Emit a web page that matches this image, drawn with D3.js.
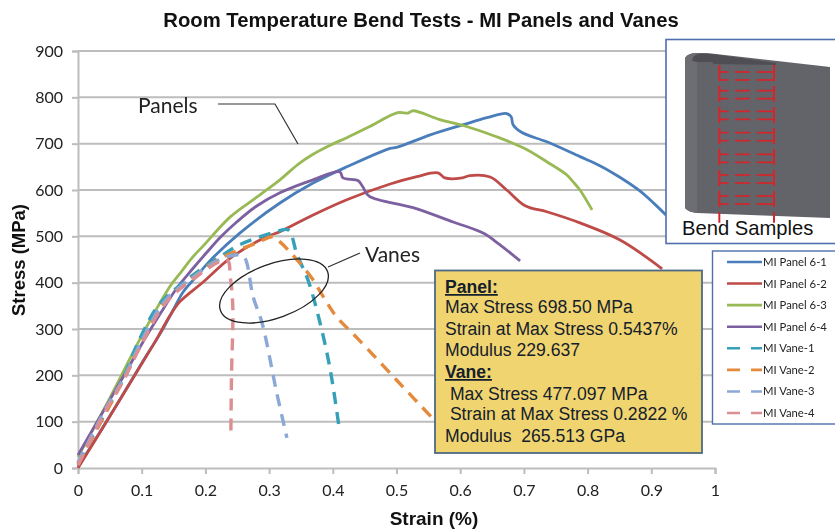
<!DOCTYPE html>
<html><head><meta charset="utf-8">
<script src="https://cdn.jsdelivr.net/npm/d3@7"></script>
<style>
html,body{margin:0;padding:0;background:#fff;overflow:hidden}
svg{display:block;filter:blur(0.45px)}
text{font-family:"Liberation Sans",Arial,sans-serif}
</style></head><body>
<svg id="c" width="835" height="531"></svg>
<script>
const title="Room Temperature Bend Tests - MI Panels and Vanes";
const xTicks=[0,0.1,0.2,0.3,0.4,0.5,0.6,0.7,0.8,0.9,1];
const yTicks=[0,100,200,300,400,500,600,700,800,900];
const panel61=[[0,2],[.05,112],[.1,226],[.129,290],[.149,340],[.165,380],[.185,412],[.207,447],[.254,507],[.317,572],[.369,615],[.422,650],[.49,690],[.50,692],[.553,719],[.605,741],[.642,756],[.673,765],[.68,758],[.683,741],[.697,724],[.736,704],[.788,672],[.82,652],[.85,628],[.882,598],[.905,570],[.923,546]];
const panel62=[[0,0],[.04,89],[.097,218],[.125,282],[.144,328],[.16,359],[.197,402],[.239,453],[.296,499],[.317,510],[.369,546],[.422,579],[.49,613],[.532,629],[.565,637],[.576,626],[.603,626],[.615,631],[.647,628],[.673,600],[.702,566],[.736,553],[.788,529],[.851,492],[.917,430]];
const panel63=[[0,24],[.05,151],[.1,285],[.144,391],[.163,425],[.18,455],[.197,480],[.239,542],[.278,582],[.317,622],[.345,655],[.369,677],[.395,696],[.422,713],[.458,737],[.502,767],[.518,766],[.526,771],[.568,752],[.61,737],[.657,715],[.699,691],[.736,661],[.767,633],[.777,618],[.788,600],[.807,557]];
const panel64=[[0,28],[.071,197],[.102,272],[.13,335],[.155,388],[.18,430],[.202,465],[.225,500],[.25,532],[.28,565],[.317,594],[.369,622],[.411,639],[.416,626],[.44,620],[.447,607],[.457,587],[.526,562],[.589,531],[.636,507],[.662,482],[.694,447]];
const vane1=[[0,10],[.071,194],[.094,270],[.121,341],[.137,367],[.181,417],[.223,456],[.254,482],[.312,510],[.33,514],[.344,460],[.361,406],[.38,313],[.396,212],[.41,86]];
const vane2=[[0,8],[.071,190],[.1,272],[.137,360],[.181,412],[.223,452],[.281,486],[.306,499],[.317,488],[.333,466],[.367,410],[.388,363],[.406,326],[.438,281],[.5,190],[.565,95]];
const vane3=[[0,12],[.045,132],[.071,192],[.1,275],[.137,362],[.181,412],[.223,450],[.254,460],[.262,453],[.275,369],[.289,313],[.312,162],[.328,65]];
const vane4=[[0,6],[.045,128],[.071,188],[.1,268],[.137,355],[.181,408],[.234,449],[.239,413],[.243,348],[.241,200],[.24,78]];
const seriesNames=["MI Panel 6-1","MI Panel 6-2","MI Panel 6-3","MI Panel 6-4","MI Vane-1","MI Vane-2","MI Vane-3","MI Vane-4"];
const seriesData=[panel61,panel62,panel63,panel64,vane1,vane2,vane3,vane4];
const seriesColors=["#4a7ebb","#be4b48","#98b954","#7d60a0","#35a0b8","#e48a3c","#8ca8d6","#dc8f92"];
const panelNotes=["Max Stress 698.50 MPa","Strain at Max Stress 0.5437%","Modulus 229.637"];
const vaneNotes=[" Max Stress 477.097 MPa"," Strain at Max Stress 0.2822 %","Modulus  265.513 GPa"];
const sampleRows=[138,194,256,320,385,447,510];

const svg=d3.select("#c");
const x=d3.scaleLinear().domain([0,1]).range([78,715]);
const y=d3.scaleLinear().domain([0,900]).range([468,51]);
const grey="#bdbdbd";

svg.append("text").attr("x",421).attr("y",27).attr("text-anchor","middle")
 .attr("font-size",20.3).attr("font-weight","bold").attr("fill","#111").text(title);

const gy=svg.append("g").attr("transform","translate(78,0)")
 .call(d3.axisLeft(y).tickValues(yTicks).tickSize(6).tickPadding(9).tickFormat(d3.format("d")));
const gx=svg.append("g").attr("transform","translate(0,468)")
 .call(d3.axisBottom(x).tickValues(xTicks).tickSize(6).tickPadding(11).tickFormat(d=>d));
[gx,gy].forEach(g=>{
 g.selectAll("path,line").attr("stroke",grey).attr("stroke-width",2);
 g.selectAll("text").attr("font-size",16).attr("fill","#222").style("font-family","Lato");
});
svg.insert("g","g").selectAll("line").data(yTicks.slice(1)).join("line")
 .attr("x1",78).attr("x2",715).attr("y1",d=>y(d)).attr("y2",d=>y(d))
 .attr("stroke",grey).attr("stroke-width",2);

svg.append("text").attr("transform","translate(25,260) rotate(-90)").attr("text-anchor","middle")
 .attr("font-size",18.5).attr("font-weight","bold").attr("fill","#111").text("Stress (MPa)");
svg.append("text").attr("x",434).attr("y",525).attr("text-anchor","middle")
 .attr("font-size",19).attr("font-weight","bold").attr("fill","#111").text("Strain (%)");

const line=d3.line().x(d=>x(d[0])).y(d=>y(d[1])).curve(d3.curveCatmullRom.alpha(0.5));
svg.append("g").selectAll("path").data(seriesData).join("path")
 .attr("d",line).attr("fill","none")
 .attr("stroke",(d,i)=>seriesColors[i]).attr("stroke-width",(d,i)=>i>3?3.4:2.8)
 .attr("stroke-linejoin","round")
 .attr("stroke-dasharray",(d,i)=>i>3?"12 8":null);

// annotations
svg.append("text").attr("x",138).attr("y",113).attr("font-size",21).attr("fill","#222")
 .style("font-family","Lato").text("Panels");
svg.append("path").attr("d","M218,104H275L298,144").attr("fill","none").attr("stroke","#333").attr("stroke-width",1.2);
svg.append("text").attr("x",365).attr("y",262).attr("font-size",21).attr("fill","#222")
 .style("font-family","Lato").text("Vanes");
svg.append("line").attr("x1",328).attr("y1",267).attr("x2",360).attr("y2",253).attr("stroke","#333").attr("stroke-width",1.2);
svg.append("ellipse").attr("transform","translate(274,291) rotate(-20)").attr("rx",57).attr("ry",27)
 .attr("fill","none").attr("stroke","#222").attr("stroke-width",1.3);

// inset
const inset=svg.append("g");
inset.append("rect").attr("x",666).attr("y",39.5).attr("width",180).attr("height",204)
 .attr("fill","#fff").attr("stroke","#4f6fae").attr("stroke-width",1.6);
inset.append("path").attr("d","M685,58Q688,53 697,53L707,53L830,67V218L697,213Q688,212 685,208Z").attr("fill","#63636a");
inset.append("path").attr("d","M685,58Q688,53 697,53V213Q688,212 685,208Z").attr("fill","#6d6d72");
inset.append("path").attr("d","M692,61Q692,55 700,54L712,54L776,63L776,65L714,64Q712,61 708,62L697,62Z").attr("fill","#4e4e54");
const red="#d4262a";
const zx=v=>640+v/3, zy=v=>30+v/3;
[238,402].forEach(v=>inset.append("line").attr("x1",zx(v)).attr("x2",zx(v)).attr("y1",zy(105)).attr("y2",zy(578))
 .attr("stroke",red).attr("stroke-width",2).attr("stroke-dasharray","16 5"));
sampleRows.forEach(r=>{
 [-12,12].forEach(o=>{
  [[238,265],[285,330],[350,402]].forEach(s=>{
   inset.append("line").attr("x1",zx(s[0])).attr("x2",zx(s[1])).attr("y1",zy(r+o)).attr("y2",zy(r+o))
    .attr("stroke",red).attr("stroke-width",1.7);
  });
 });
});
inset.append("text").attr("x",682).attr("y",235).attr("font-size",20.2).attr("fill","#111").text("Bend Samples");

// yellow note
const note=svg.append("g");
note.append("rect").attr("x",435).attr("y",270.5).attr("width",267).attr("height",182.5)
 .attr("fill","#f0d46f").attr("stroke","#4d6a85").attr("stroke-width",1.8);
const tx=(t,xx,yy,b)=>note.append("text").attr("x",xx).attr("y",yy).attr("font-size",17.6)
 .attr("fill","#14202c").attr("font-weight",b?"bold":"normal").attr("text-decoration",b?"underline":null)
 .style("white-space","pre").text(t);
tx("Panel:",445,293,true);
panelNotes.forEach((t,i)=>tx(t,445,[313,335,356][i]));
tx("Vane:",445,378,true);
vaneNotes.forEach((t,i)=>tx(t,445,[400,420,442][i]));

// legend
const leg=svg.append("g");
leg.append("rect").attr("x",712.5).attr("y",251).attr("width",140).attr("height",173)
 .attr("fill","#fff").attr("stroke","#4f6fae").attr("stroke-width",1.4);
const legY=d3.scalePoint().domain(seriesNames).range([262,413]);
const it=leg.selectAll("g").data(seriesNames).join("g").attr("transform",d=>`translate(0,${legY(d)})`);
it.append("line").attr("x1",727).attr("x2",762).attr("stroke",(d,i)=>seriesColors[i]).attr("stroke-width",2.6)
 .attr("stroke-dasharray",(d,i)=>i>3?"13 11":null);
it.append("text").attr("x",763).attr("y",4).attr("font-size",11.3).attr("fill","#222").style("font-family","Lato").text(d=>d);
</script>
</body></html>
